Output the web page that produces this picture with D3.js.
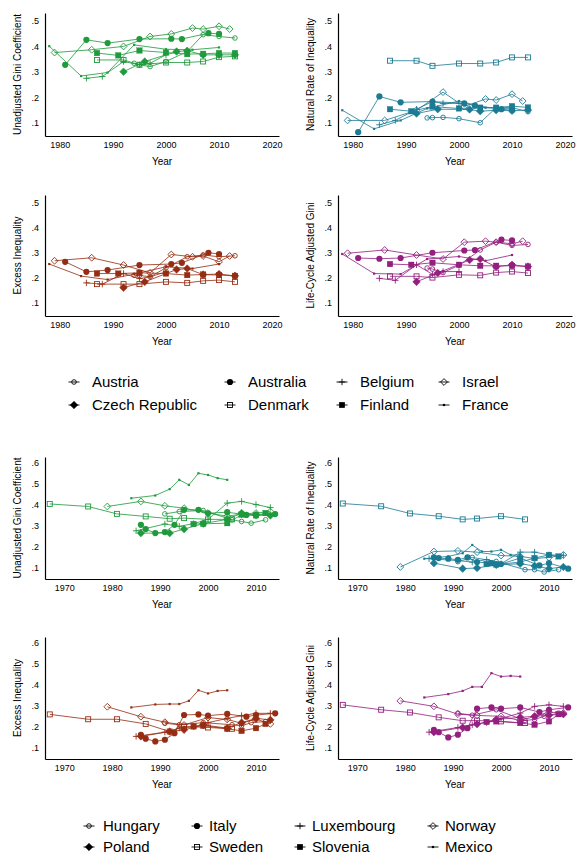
<!DOCTYPE html>
<html lang="en">
<head>
<meta charset="utf-8">
<script src="https://cdnjs.cloudflare.com/ajax/libs/d3/7.8.5/d3.min.js"></script>
<style>
    body { margin: 0; background: #fff; }
    svg { display: block; font-family: "Liberation Sans", Arial, sans-serif; }
    .axis path { stroke: #000; stroke-width: 1.2; }
    .axis line { display: none; }
    .axis text { fill: #000; font-size: 9px; }
</style>
</head>
<body>
<svg id="chart" width="577" height="855"></svg>
<script>
// countries, in legend order
const countries1 = ["Austria", "Australia", "Belgium", "Israel", "Czech Republic", "Denmark", "Finland", "France"];
const countries2 = ["Hungary", "Italy", "Luxembourg", "Norway", "Poland", "Sweden", "Slovenia", "Mexico"];
const markerTypes = ["ocircle", "circle", "plus", "odiamond", "diamond", "osquare", "square", "dot"];

// survey years, one row per country
const years1 = [
    [1994, 1995, 1997, 2000, 2004, 2007, 2010, 2013],
    [1981, 1985, 1989, 1995, 2001, 2003, 2008, 2010],
    [1985, 1988, 1992, 1995, 1997, 2000],
    [1979, 1986, 1992, 1997, 2001, 2005, 2007, 2010, 2012],
    [1992, 1996, 2002, 2004, 2007, 2010, 2013],
    [1987, 1992, 1995, 2000, 2004, 2007, 2010, 2013],
    [1987, 1991, 1995, 2000, 2004, 2007, 2010, 2013],
    [1978, 1984, 1989, 1994, 2000, 2005, 2010]
];
const years2 = [
    [1991, 1994, 1999, 2005, 2007, 2009, 2012],
    [1986, 1987, 1989, 1991, 1993, 1995, 1998, 2000, 2004, 2008, 2010, 2014],
    [1985, 1991, 1994, 1997, 2000, 2004, 2007, 2010, 2013],
    [1979, 1986, 1991, 1995, 2000, 2004, 2007, 2010, 2013],
    [1986, 1992, 1995, 1999, 2004, 2007, 2010, 2013],
    [1967, 1975, 1981, 1987, 1992, 1995, 2000, 2005],
    [1997, 1999, 2004, 2007, 2010, 2012],
    [1984, 1989, 1992, 1994, 1996, 1998, 2000, 2002, 2004]
];

// group 1 values
const gini1 = [
    [.333, .327, .320, .340, .379, .445, .438, .432],
    [.327, .425, .412, .428, .429, .428, .451, .448],
    [.274, .281, .340, .327, .333, .366],
    [.375, .386, .399, .438, .448, .471, .467, .478, .467],
    [.300, .340, .379, .382, .366, .366, .366],
    [.346, .346, .327, .336, .336, .340, .357, .360],
    [.373, .364, .383, .375, .369, .370, .373, .373],
    [.400, .283, .297, .405, .388, .386, .395]
];
const natural1 = [
    [.119, .120, .121, .116, .100, .159, .159, .143],
    [.063, .203, .180, .183, .176, .167, .153, .149],
    [.092, .109, .153, .183, .176, .176],
    [.109, .109, .149, .220, .163, .193, .189, .212, .185],
    [.136, .153, .152, .145, .149, .147, .150],
    [.343, .343, .323, .332, .332, .336, .356, .356],
    [.153, .145, .163, .156, .159, .159, .165, .160],
    [.149, .076, .109, .156, .185, .159, .156]
];
const excess1 = [
    [.210, .210, .204, .240, .284, .291, .284, .288],
    [.264, .224, .231, .251, .255, .260, .300, .295],
    [.180, .175, .217, .197, .204, .224],
    [.268, .280, .251, .220, .293, .284, .287, .264, .287],
    [.161, .184, .233, .237, .213, .215, .208],
    [.175, .175, .175, .184, .180, .188, .191, .184],
    [.217, .217, .220, .217, .211, .213, .211, .208],
    [.255, .207, .193, .215, .244, .237, .255]
];
const lifecycle1 = [
    [.239, .235, .221, .250, .311, .342, .329, .333],
    [.279, .276, .279, .300, .309, .311, .352, .349],
    [.198, .190, .252, .214, .225, .225],
    [.298, .311, .291, .275, .342, .346, .342, .336, .346],
    [.184, .219, .271, .275, .244, .252, .245],
    [.206, .206, .201, .212, .210, .221, .225, .219],
    [.255, .252, .260, .252, .248, .248, .248, .245],
    [.295, .217, .215, .275, .285, .268, .291]
];

// group 2 values
const gini2 = [
    [.356, .367, .372, .328, .320, .312, .328],
    [.304, .284, .265, .270, .304, .375, .375, .359, .364, .351, .351, .355],
    [.276, .308, .297, .310, .330, .407, .415, .400, .386],
    [.391, .415, .394, .383, .360, .345, .355, .360, .367],
    [.265, .265, .284, .310, .330, .360, .350, .348],
    [.403, .391, .356, .344, .333, .336, .330, .330],
    [.308, .309, .312, .352, .349, .360],
    [.430, .443, .473, .517, .493, .548, .540, .525, .517]
];
const natural2 = [
    [.130, .150, .131, .092, .092, .081, .092],
    [.150, .147, .144, .139, .150, .128, .123, .119, .147, .112, .123, .097],
    [.144, .135, .128, .140, .120, .175, .175, .162, .160],
    [.105, .178, .181, .175, .159, .155, .145, .150, .162],
    [.123, .097, .100, .115, .120, .110, .097, .105],
    [.405, .392, .358, .345, .330, .334, .345, .330],
    [.119, .116, .128, .147, .162, .155],
    [.144, .155, .170, .209, .178, .178, .186, .162, .162]
];
const excess2 = [
    [.217, .210, .220, .210, .205, .220, .225],
    [.162, .144, .131, .139, .170, .256, .259, .253, .261, .248, .256, .264],
    [.155, .175, .194, .200, .220, .240, .253, .264, .264],
    [.295, .248, .222, .209, .244, .235, .217, .237, .214],
    [.155, .178, .186, .209, .194, .220, .240, .233],
    [.259, .236, .236, .214, .178, .202, .197, .191],
    [.202, .205, .191, .181, .194, .214],
    [.292, .306, .308, .308, .323, .373, .358, .370, .373]
];
const lifecycle2 = [
    [.265, .255, .281, .230, .235, .250, .265],
    [.186, .175, .150, .163, .194, .286, .292, .286, .292, .270, .281, .292],
    [.175, .197, .210, .220, .240, .265, .297, .304, .297],
    [.323, .297, .260, .254, .250, .230, .249, .270, .265],
    [.175, .197, .213, .235, .245, .250, .255, .260],
    [.304, .281, .268, .245, .229, .230, .226, .218],
    [.223, .226, .218, .210, .226, .260],
    [.339, .355, .370, .389, .389, .454, .438, .441, .438]
];

const xTicks1 = [1980, 1990, 2000, 2010, 2020];
const xTicks2 = [1970, 1980, 1990, 2000, 2010];
const yTicks1 = [.1, .2, .3, .4, .5];
const yTicks2 = [.1, .2, .3, .4, .5, .6];

const colors = { gini: "#1f9a3c", natural: "#1b7b93", excess: "#962d13", lifecycle: "#931f7f" };

const svg = d3.select("#chart");

function drawMarker(g, type, x, y, color) {
    if (type === "circle") {
        g.append("circle").attr("cx", x).attr("cy", y).attr("r", 3.1).attr("fill", color);
    } else if (type === "ocircle") {
        g.append("circle").attr("cx", x).attr("cy", y).attr("r", 2.3)
            .attr("fill", "none").attr("stroke", color).attr("stroke-width", 0.9);
    } else if (type === "diamond" || type === "odiamond") {
        var s = type === "diamond" ? 3.8 : 3.4;
        g.append("path")
            .attr("d", "M" + x + "," + (y - s) + "L" + (x + s) + "," + y + "L" + x + "," + (y + s) + "L" + (x - s) + "," + y + "Z")
            .attr("fill", type === "diamond" ? color : "none")
            .attr("stroke", color).attr("stroke-width", type === "diamond" ? 0.5 : 0.9);
    } else if (type === "square" || type === "osquare") {
        var h = type === "square" ? 2.8 : 2.5;
        g.append("rect").attr("x", x - h).attr("y", y - h).attr("width", 2 * h).attr("height", 2 * h)
            .attr("fill", type === "square" ? color : "none")
            .attr("stroke", color).attr("stroke-width", type === "square" ? 0.3 : 0.9);
    } else if (type === "plus") {
        g.append("path")
            .attr("d", "M" + (x - 3.2) + "," + y + "H" + (x + 3.2) + "M" + x + "," + (y - 3.2) + "V" + (y + 3.2))
            .attr("stroke", color).attr("stroke-width", 0.9);
    } else {
        g.append("rect").attr("x", x - 1.1).attr("y", y - 1.1).attr("width", 2.2).attr("height", 2.2).attr("fill", color);
    }
}

function drawPanel(p) {
    var x = d3.scaleLinear().domain(p.xdom).range(p.xr);
    var y = d3.scaleLinear().domain(p.ydom).range([p.yr[1], p.yr[0]]);
    var g = svg.append("g");

    // axes
    g.append("g").attr("class", "axis")
        .attr("transform", "translate(0," + p.yr[1] + ")")
        .call(d3.axisBottom(x).tickValues(p.xticks).tickSize(0).tickSizeOuter(0).tickPadding(6).tickFormat(d3.format("d")));
    g.append("g").attr("class", "axis")
        .attr("transform", "translate(" + p.xr[0] + ",0)")
        .call(d3.axisLeft(y).tickValues(p.yticks).tickSize(0).tickSizeOuter(0).tickPadding(6)
            .tickFormat(function(d) { return d3.format(".1f")(d).replace(/^0/, ""); }));
    g.selectAll(".domain").attr("fill", "none");

    g.append("text")
        .attr("x", (p.xr[0] + p.xr[1]) / 2).attr("y", p.yr[1] + 29)
        .attr("text-anchor", "middle").attr("font-size", 10).text("Year");
    g.append("text")
        .attr("transform", "translate(" + p.titleX + "," + (p.yr[0] + p.yr[1]) / 2 + ") rotate(-90)")
        .attr("text-anchor", "middle").attr("dy", "0.35em").attr("font-size", 10).text(p.title);

    var line = d3.line().x(function(d) { return x(d[0]); }).y(function(d) { return y(d[1]); });

    p.values.forEach(function(vals, i) {
        var pts = vals.map(function(v, j) { return [p.years[i][j], v]; });
        g.append("path").datum(pts).attr("d", line)
            .attr("fill", "none").attr("stroke", p.color).attr("stroke-width", 0.9).attr("stroke-opacity", 0.9);
        pts.forEach(function(d) { drawMarker(g, markerTypes[i], x(d[0]), y(d[1]), p.color); });
    });
}

var topX = [1977.2, 2021.3], botX = [1966, 2014.8];
var topY = [0.048, 0.53], botY = [0.048, 0.625];

drawPanel({ xr: [45, 279], yr: [13, 136], xdom: topX, ydom: topY, xticks: xTicks1, yticks: yTicks1, titleX: 17,
    title: "Unadjusted Gini Coefficient", years: years1, values: gini1, color: colors.gini });
drawPanel({ xr: [338, 572], yr: [13, 136], xdom: topX, ydom: topY, xticks: xTicks1, yticks: yTicks1, titleX: 310,
    title: "Natural Rate of Inequality", years: years1, values: natural1, color: colors.natural });
drawPanel({ xr: [45, 279], yr: [195, 316], xdom: topX, ydom: topY, xticks: xTicks1, yticks: yTicks1, titleX: 17,
    title: "Excess Inequality", years: years1, values: excess1, color: colors.excess });
drawPanel({ xr: [338, 572], yr: [195, 316], xdom: topX, ydom: topY, xticks: xTicks1, yticks: yTicks1, titleX: 310,
    title: "Life-Cycle Adjusted Gini", years: years1, values: lifecycle1, color: colors.lifecycle });

drawPanel({ xr: [45, 279], yr: [457, 579], xdom: botX, ydom: botY, xticks: xTicks2, yticks: yTicks2, titleX: 17,
    title: "Unadjusted Gini Coefficient", years: years2, values: gini2, color: colors.gini });
drawPanel({ xr: [338, 572], yr: [457, 579], xdom: botX, ydom: botY, xticks: xTicks2, yticks: yTicks2, titleX: 310,
    title: "Natural Rate of Inequality", years: years2, values: natural2, color: colors.natural });
drawPanel({ xr: [45, 279], yr: [637, 759], xdom: botX, ydom: botY, xticks: xTicks2, yticks: yTicks2, titleX: 17,
    title: "Excess Inequality", years: years2, values: excess2, color: colors.excess });
drawPanel({ xr: [338, 572], yr: [637, 759], xdom: botX, ydom: botY, xticks: xTicks2, yticks: yTicks2, titleX: 310,
    title: "Life-Cycle Adjusted Gini", years: years2, values: lifecycle2, color: colors.lifecycle });

// legends
function drawLegend(names, cols, rows) {
    var lg = svg.append("g");
    names.forEach(function(name, i) {
        var c = cols[i % 4], yy = rows[Math.floor(i / 4)];
        lg.append("line").attr("x1", c[0] - 5.5).attr("x2", c[0] + 5.5).attr("y1", yy).attr("y2", yy)
            .attr("stroke", "#000").attr("stroke-width", 0.9);
        drawMarker(lg, markerTypes[i], c[0], yy, "#000");
        lg.append("text").attr("x", c[1]).attr("y", yy).attr("dy", "0.35em")
            .attr("font-size", 15).text(name);
    });
}
drawLegend(countries1, [[74, 92], [230, 248], [342, 360], [444, 462]], [382, 405]);
drawLegend(countries2, [[89, 103], [197, 209], [300, 312], [433, 445]], [826, 847]);
</script>
</body>
</html>
